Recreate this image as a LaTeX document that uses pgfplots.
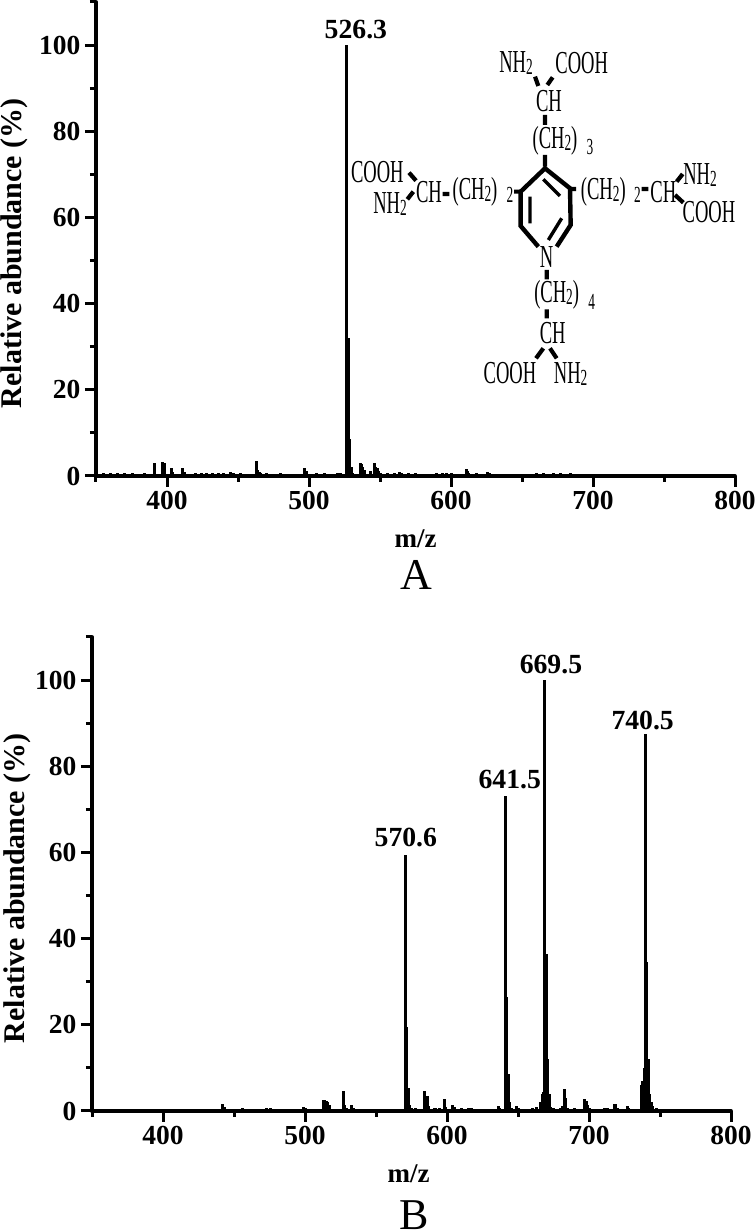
\documentclass[border=0pt]{standalone}
\usepackage{pgfplots}
\usepackage{graphicx}
\usepackage{fontspec}
\setmainfont{Liberation Serif}
\pgfplotsset{compat=1.18}
\pgfplotsset{msaxis/.style={
  scale only axis, width=639pt, height=474pt,
  xmin=350, xmax=800, ymin=0, ymax=110,
  axis x line=bottom, axis y line=left, axis line style={-, line width=3.8pt, line cap=round},
  xtick={400,500,600,700,800}, minor xtick={350,450,550,650,750},
  ytick={0,20,40,60,80,100}, minor ytick={10,30,50,70,90,110},
  tick align=outside,
  major tick length=11pt, minor tick length=6pt,
  every tick/.style={line width=3pt, black},
  minor tick style={line width=3pt, black},
  /pgf/number format/assume math mode=true,
  tick label style={font=\fontsize{27.5}{27.5}\selectfont\bfseries},
  xticklabel style={yshift=-1pt},
  yticklabel style={xshift=-1pt},
  xlabel style={font=\fontsize{27}{27}\selectfont\bfseries, at={(axis description cs:0.5,0)}, anchor=center, yshift=-63pt},
  ylabel style={font=\fontsize{30}{30}\selectfont\bfseries, at={(axis description cs:0,0.47)}, anchor=center, yshift=82pt},
  clip=false,
}}
\newcommand{\mol}[1]{\scalebox{.58}[1]{\fontsize{32}{32}\selectfont #1}}
\newcommand{\sub}[1]{\raisebox{-2pt}{\fontsize{23}{23}\selectfont #1}}
\newcommand{\pk}[1]{\fontsize{27.7}{27.7}\selectfont\bfseries #1}
\begin{document}
\begin{tikzpicture}[x=1pt,y=1pt]
\useasboundingbox (0,0) rectangle (755,1231);
% Panel A
\begin{axis}[msaxis, at={(96pt,755pt)}, anchor=south west, xlabel={m/z}, ylabel={Relative abundance (\%)}]
\addplot[ycomb, black, line width=3pt] coordinates {
(526.6,100)(527.6,32)(528.6,8.5)(529.6,2.2)(530.6,0.8)
(391.5,2.9)(397,3.2)(398,3.1)(403,1.8)(404,1)(411,1.9)(412,1)
(463,3.5)(464,1.5)(465,0.9)(466,0.7)(497,1.9)(498,1.1)
(536,2.9)(537,2.7)(538,2)(539,1.5)(543,1.1)(546,3.1)(547,2)(548,1.8)(549,1.2)(550,0.8)
(564,1)(565,0.7)(610.6,1.7)(611.6,1.2)(612.6,0.8)(626,0.9)(627,0.6)(684,0.8)(672,0.7)(665,0.6)
(355,0.6)(360,0.7)(365,0.6)(370,0.7)(376,0.6)(380,0.5)(384,0.7)
(420,0.7)(424,0.8)(428,0.8)(432,0.8)(436,0.7)(440,0.6)(445,0.9)(447,0.7)(452,0.6)
(470,0.6)(480,0.7)(486,0.5)(505,0.6)(511,0.7)(520,0.8)(522,0.7)
(555,0.6)(560,0.6)(570,0.6)(575,0.6)(590,0.7)(594,0.8)(597,0.8)(600,0.6)(618,0.6)(640,0.5)(650,0.5)(660,0.6)(677,0.6)(690,0.5)(695,0.5)};
\node[anchor=south] at (axis cs:533,100.6) {\pk{526.3}};
\end{axis}
% Panel B
\begin{axis}[msaxis, at={(92pt,120pt)}, anchor=south west, xlabel={m/z}, ylabel={Relative abundance (\%)},
  xlabel style={xshift=-3pt}, ylabel style={yshift=-7pt}]
\addplot[ycomb, black, line width=3pt] coordinates {
(442,1.6)(443,0.9)(456,0.6)(473,0.6)(476,0.6)(478,0.5)(499,0.9)(500,0.6)
(513,2.5)(514,2.5)(515,2.4)(516,2.2)(517,1.5)(527,4.7)(528,1.5)(529,0.8)(533,1.3)(534,0.8)(536,0.5)(540,0.5)(545,0.5)(550,0.5)(558,0.5)
(570.6,59.5)(571.6,19.5)(572.6,5.3)(573.6,1.5)(575,0.7)(578,0.6)
(584,4.7)(585,3.5)(586,3.4)(587,1.2)(591,0.8)(592,0.7)(595,0.6)(598,2.8)(599,1)
(604,1.5)(605,1)(610,0.6)(615,0.7)(617,0.6)(625,0.5)(630,0.5)(636,1.1)(637,0.8)
(641.2,73)(642.2,26.5)(643.2,8.5)(644.2,2)(645.2,0.7)(649,1.2)(650,0.8)(655,0.5)(660,0.7)(663,1)
(666,2)(667,4)(668,4.3)(669,100)(670,36.5)(671,12)(672,4)(673,1)(675,0.7)(680,0.8)
(681,1.2)(682.5,5.2)(683.5,3)(685,0.7)(690,0.6)(697,2.8)(698,2.4)(699,1.5)(700,0.8)(705,0.5)
(711,0.7)(713,0.6)(718,1.7)(719,1.6)(720,0.6)(724,0.5)(727,1.2)(728,0.8)(732,0.5)
(737,6)(738,7)(739,10)(739.7,87.5)(740.7,34.5)(741.7,12)(742.7,4)(743.7,2)(744.7,1.2)(747.5,0.7)};
\node[anchor=south] at (axis cs:571,60.4) {\pk{570.6}};
\node[anchor=south] at (axis cs:644.2,74) {\pk{641.5}};
\node[anchor=south] at (axis cs:673.2,100.6) {\pk{669.5}};
\node[anchor=south] at (axis cs:737.8,87.6) {\pk{740.5}};
\end{axis}
\node at (416,656) {\fontsize{44}{44}\selectfont A};
\node[anchor=base] at (414,1.5) {\fontsize{44}{44}\selectfont B};
% Molecule inset
\begin{scope}[shift={(330pt,1211pt)}, x=0.33333pt, y=-0.33333pt]
\draw[line width=4.4pt, miter limit=2] (625,680)--(572,618)--(572,515)--(645,445)--(720,505)--(722,615)--(680,680);
\draw[line width=3.4pt] (640,478)--(690,528) (600,530)--(600,610) (655,660)--(695,595);
\draw[line width=4.2pt] (615,170)--(625,198) (668,172)--(652,195) (645,285)--(645,315) (645,405)--(645,440)
 (237,458)--(258,482) (250,515)--(232,538) (338,522)--(358,522) (552,515)--(572,515) (720,507)--(738,507)
 (935,507)--(955,507) (1040,485)--(1058,462) (1035,525)--(1060,548) (650,750)--(650,778) (650,868)--(650,895)
 (640,985)--(618,1015) (660,985)--(680,1015);
\node at (558,128) {\mol{NH\sub{2}}};
\node at (755,128) {\mol{COOH}};
\node at (657,242) {\mol{CH}};
\node at (675,362) {\mol{(CH\sub{2})}};
\node at (780,382) {\mol{\sub{3}}};
\node at (142,455) {\mol{COOH}};
\node at (180,552) {\mol{NH\sub{2}}};
\node at (297,515) {\mol{CH}};
\node at (435,515) {\mol{(CH\sub{2})}};
\node at (540,525) {\mol{\sub{2}}};
\node at (820,515) {\mol{(CH\sub{2})}};
\node at (922,525) {\mol{\sub{2}}};
\node at (1000,515) {\mol{CH}};
\node at (1110,465) {\mol{NH\sub{2}}};
\node at (1137,577) {\mol{COOH}};
\node at (650,712) {\mol{N}};
\node at (680,825) {\mol{(CH\sub{2})}};
\node at (785,845) {\mol{\sub{4}}};
\node at (668,940) {\mol{CH}};
\node at (540,1060) {\mol{COOH}};
\node at (722,1062) {\mol{NH\sub{2}}};
\end{scope}
\end{tikzpicture}
\end{document}
